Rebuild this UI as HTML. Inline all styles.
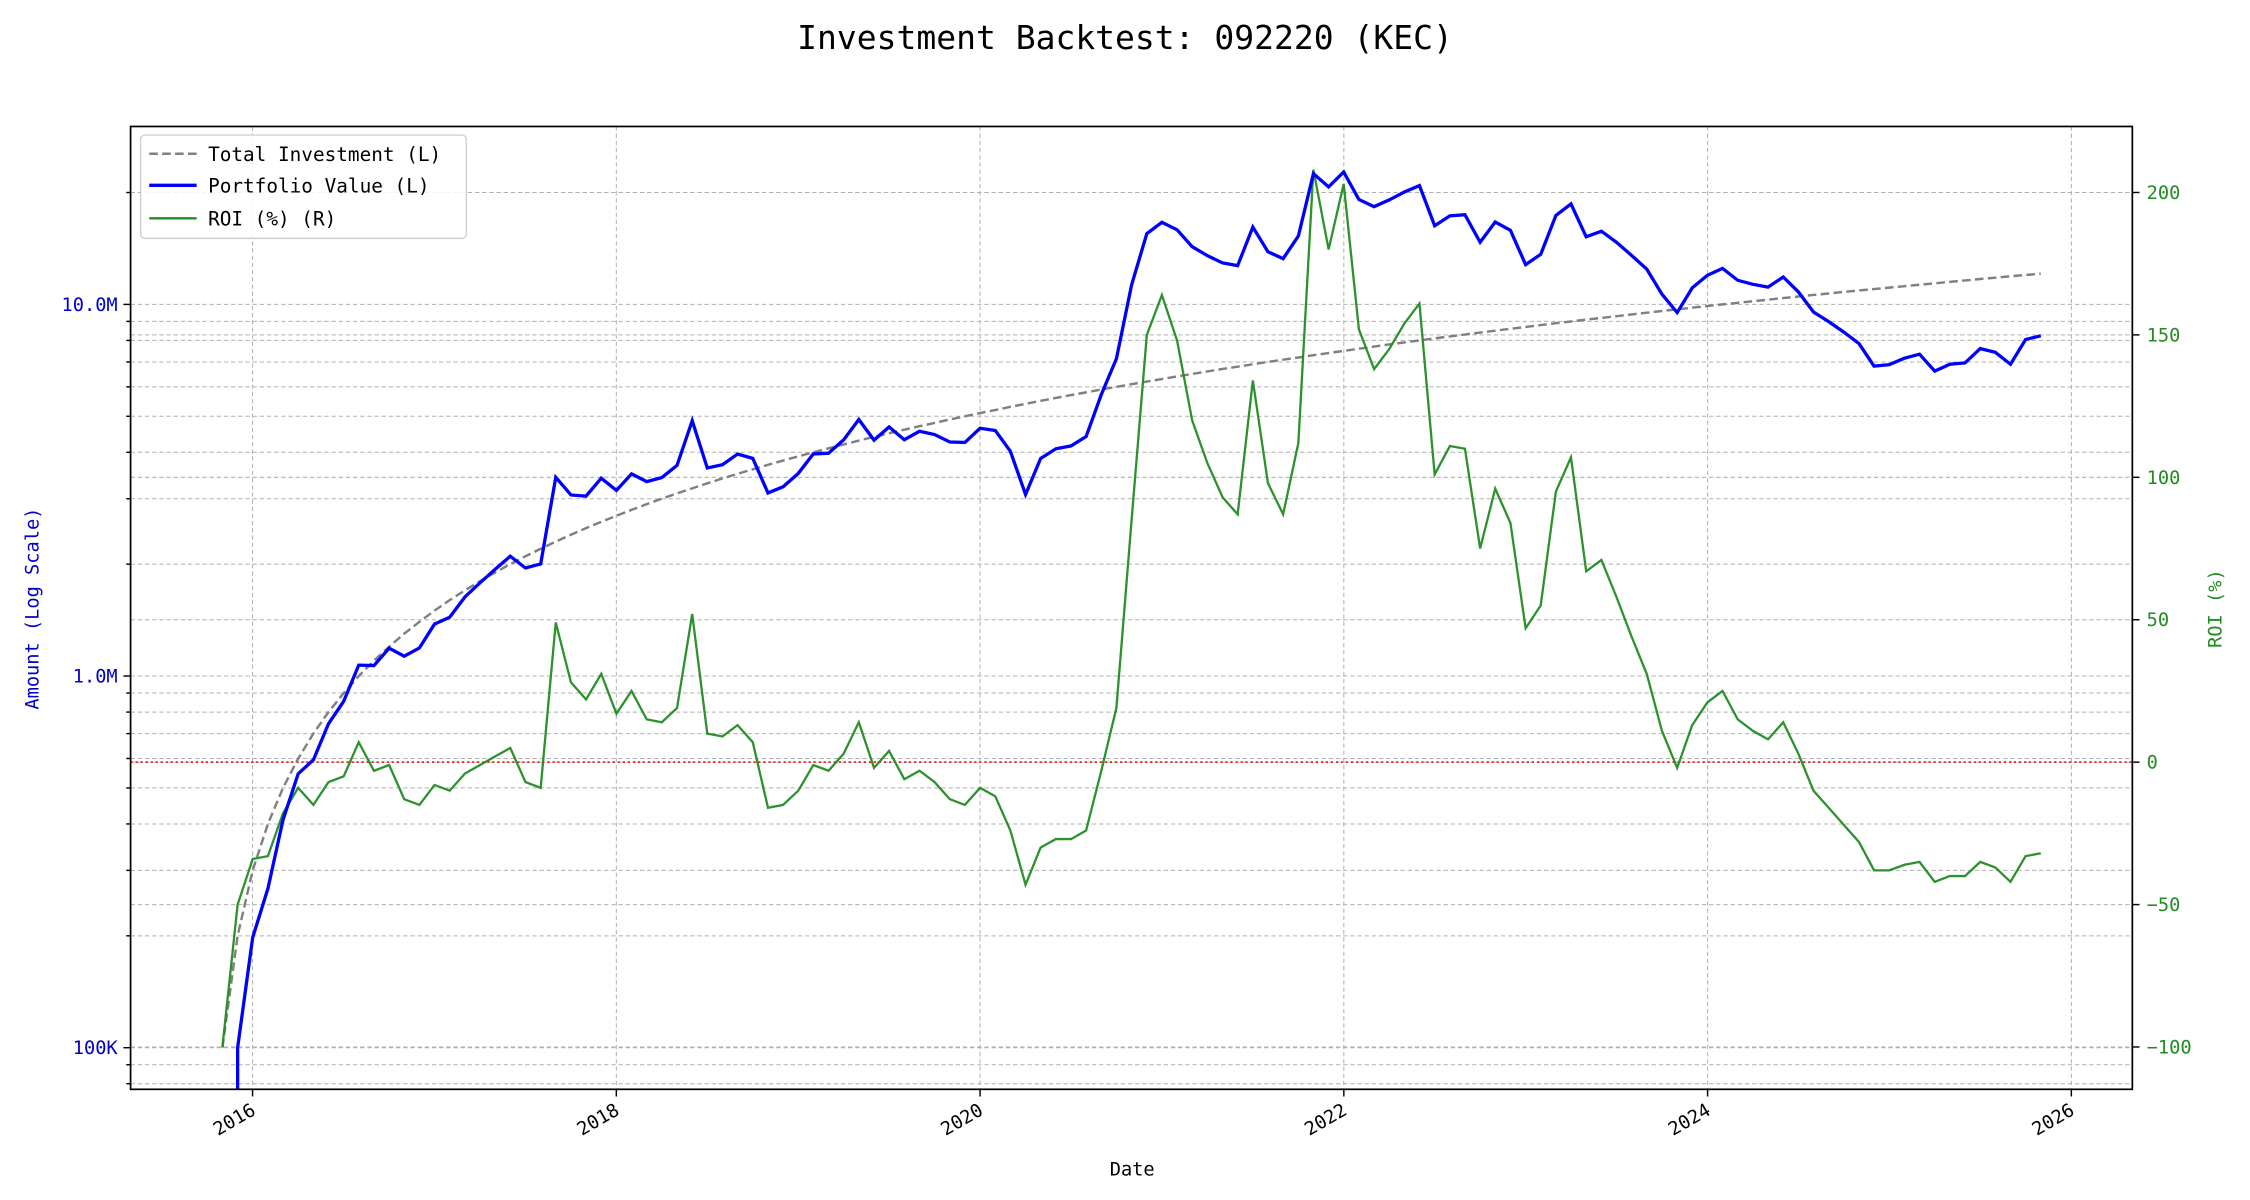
<!DOCTYPE html>
<html><head><meta charset="utf-8"><style>
html,body{margin:0;padding:0;background:#fff;}
svg{display:block;font-family:"DejaVu Sans Mono","Liberation Mono",monospace;}
</style></head><body>
<svg id="s" width="2250" height="1200" viewBox="0 0 1568 836" xmlns="http://www.w3.org/2000/svg">
<rect width="1568" height="836" fill="#fff"/>
<g id="grid" stroke="#b0b0b0" stroke-width="0.7" stroke-dasharray="3,2" fill="none"></g>
<line x1="91" y1="531" x2="1486" y2="531" stroke="#e00000" stroke-width="1" stroke-dasharray="1.5,2"/>
<path id="inv" fill="none" stroke="#808080" stroke-width="1.7" stroke-dasharray="6,3"/>
<path id="roi" fill="none" stroke="#228b22" stroke-opacity="0.95" stroke-width="1.6"/>
<path id="pv" fill="none" stroke="#0000ff" stroke-width="2.3"/>
<rect x="91" y="88" width="1395" height="671" fill="none" stroke="#000" stroke-width="1.2"/>
<g id="ticks" stroke="#000" stroke-width="1"></g>
<g id="labels"></g>
<text x="784" y="34" font-size="23" text-anchor="middle" fill="#000">Investment Backtest: 092220 (KEC)</text>
<text x="789" y="819" font-size="13" text-anchor="middle">Date</text>
<text transform="translate(27,424) rotate(-90)" font-size="13" text-anchor="middle" fill="#0000cc">Amount (Log Scale)</text>
<text transform="translate(1548,424) rotate(-90)" font-size="13" text-anchor="middle" fill="#228b22">ROI (%)</text>
<g>
<rect x="98" y="94" width="227" height="72" rx="3" fill="#fff" fill-opacity="0.85" stroke="#d0d0d0"/>
<line x1="104" y1="107" x2="137" y2="107" stroke="#808080" stroke-width="1.7" stroke-dasharray="6,3"/>
<line x1="104" y1="129" x2="137" y2="129" stroke="#0000ff" stroke-width="2.3"/>
<line x1="104" y1="152" x2="137" y2="152" stroke="#228b22" stroke-width="1.6"/>
<text x="145" y="112" font-size="13.5">Total Investment (L)</text>
<text x="145" y="134" font-size="13.5">Portfolio Value (L)</text>
<text x="145" y="157" font-size="13.5">ROI (%) (R)</text>
</g>
</svg>
<script>
var roi=[-100,-50,-34,-33,-18,-9,-15,-7,-5,7,-3,-1,-13,-15,-8,-10,-4,-1,2,5,-7,-9,49,28,22,31,17,25,15,14,19,52,10,9,13,7,-16,-15,-10,-1,-3,3,14,-2,4,-6,-3,-7,-13,-15,-9,-12,-24,-43,-30,-27,-27,-24,-3,19,85,150,164,148,120,105,93,87,134,98,87,112,208,180,203,152,138,145,154,161,101,111,110,75,96,84,47,55,95,107,67,71,58,44,31,11,-2,13,21,25,15,11,8,14,3,-10,-16,-22,-28,-38,-38,-36,-35,-42,-40,-40,-35,-37,-42,-33,-32];
function X(i){return 155+i*10.56;}
function LY(v){return 212-(Math.log10(v)-7)*259;}
function RY(r){return 531-r*1.985;}
var inv="",ro="",pv="";
for(var i=0;i<roi.length;i++){
 var I=100000*(i+1);var x=X(i).toFixed(1);
 inv+=(i?"L":"M")+x+","+LY(I).toFixed(1);
 ro+=(i?"L":"M")+x+","+RY(roi[i]).toFixed(1);
 if(i==0)pv+="M"+X(1).toFixed(1)+",759";
 else pv+="L"+x+","+Math.min(759,LY(I*(1+roi[i]/100))).toFixed(1);
}
document.getElementById("inv").setAttribute("d",inv);
document.getElementById("roi").setAttribute("d",ro);
document.getElementById("pv").setAttribute("d",pv);
var g=document.getElementById("grid"),t=document.getElementById("ticks"),lb=document.getElementById("labels");
var ns="http://www.w3.org/2000/svg";
function ln(p,a,b,c,d){var e=document.createElementNS(ns,"line");e.setAttribute("x1",a);e.setAttribute("y1",b);e.setAttribute("x2",c);e.setAttribute("y2",d);p.appendChild(e);}
function tx(s,x,y,fs,col,anc,tr){var e=document.createElementNS(ns,"text");e.textContent=s;e.setAttribute("x",x);e.setAttribute("y",y);e.setAttribute("font-size",fs);e.setAttribute("fill",col);e.setAttribute("text-anchor",anc);if(tr)e.setAttribute("transform",tr);lb.appendChild(e);}
for(var k=4;k<=7;k++)for(var m=1;m<=9;m++){var v=m*Math.pow(10,k);var y=LY(v);if(y<88.5||y>759)continue;ln(g,91,y,1486,y);ln(t,91,y,m==1?86:88,y);}
[[1e7,"10.0M"],[1e6,"1.0M"],[1e5,"100K"]].forEach(function(a){tx(a[1],82,LY(a[0])+4.5,13,"#0000cc","end");});
for(var r=-100;r<=200;r+=50){var y=RY(r);ln(g,91,y,1486,y);ln(t,1486,y,1491,y);tx(r==-100?"\u2212100":r==-50?"\u221250":String(r),1496,y+4.5,13,"#228b22","start");}
for(var yr=2016;yr<=2026;yr+=2){var x=176+(yr-2016)*126.75;ln(g,x,88,x,759);ln(t,x,759,x,764);tx(String(yr),x+3,776,13,"#000","end","rotate(-30 "+(x+3)+" 776)");}
</script>
</body></html>
